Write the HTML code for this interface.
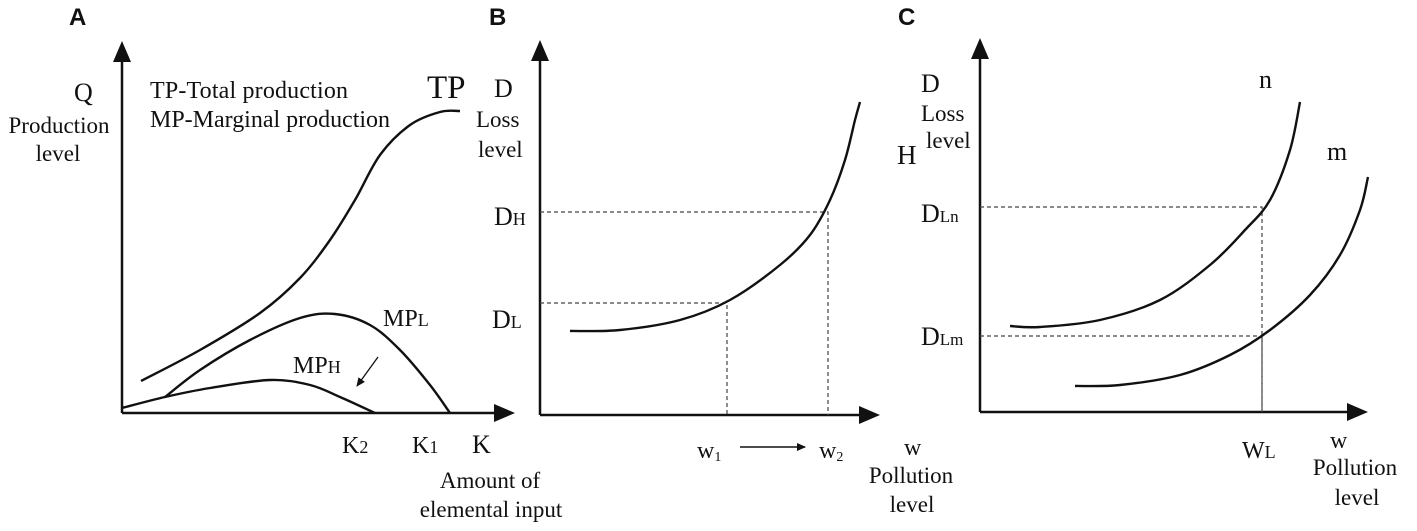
<!DOCTYPE html>
<html><head><meta charset="utf-8"><style>
body{margin:0;background:#fff}
svg text{font-family:"Liberation Serif",serif;fill:#111}
.pl{font-family:"Liberation Sans",sans-serif;font-weight:bold;font-size:24px}
</style></head><body>
<svg id="s" width="1417" height="526" viewBox="0 0 1417 526" xmlns="http://www.w3.org/2000/svg">
<defs><marker id="ar" markerWidth="9" markerHeight="8" refX="8" refY="4" orient="auto" markerUnits="userSpaceOnUse"><path d="M0,0 L9,4 L0,8z" fill="#111"/></marker></defs>
<g id="g"></g>
<text class="pl" x="69" y="25">A</text>
<text class="pl" x="489" y="25">B</text>
<text class="pl" x="898" y="25">C</text>
<!-- Panel A text -->
<text x="74" y="101" font-size="26">Q</text>
<text x="59" y="133" font-size="23" text-anchor="middle">Production</text>
<text x="58" y="161" font-size="23" text-anchor="middle">level</text>
<text x="150" y="98" font-size="24" textLength="198">TP-Total production</text>
<text x="150" y="127" font-size="24" textLength="240">MP-Marginal production</text>
<text x="427" y="98" font-size="33">TP</text>
<text x="383" y="326" font-size="24">MP<tspan font-size="18">L</tspan></text>
<text x="293" y="373" font-size="24">MP<tspan font-size="18">H</tspan></text>
<text x="342" y="453" font-size="24">K<tspan font-size="18">2</tspan></text>
<text x="412" y="453" font-size="24">K<tspan font-size="18">1</tspan></text>
<text x="472" y="453" font-size="26">K</text>
<text x="490" y="488" font-size="23" text-anchor="middle">Amount of</text>
<text x="491" y="517" font-size="23" text-anchor="middle">elemental input</text>
<!-- Panel B text -->
<text x="494" y="97" font-size="26">D</text>
<text x="476" y="127" font-size="23">Loss</text>
<text x="478" y="157" font-size="23">level</text>
<text x="494" y="225" font-size="26">D<tspan font-size="18">H</tspan></text>
<text x="492" y="328" font-size="26">D<tspan font-size="18">L</tspan></text>
<text x="697" y="458" font-size="24">w<tspan font-size="14" dy="3">1</tspan></text>
<text x="819" y="458" font-size="24">w<tspan font-size="14" dy="3">2</tspan></text>
<text x="904" y="455" font-size="24">w</text>
<text x="911" y="483" font-size="23" text-anchor="middle">Pollution</text>
<text x="912" y="512" font-size="23" text-anchor="middle">level</text>
<!-- Panel C text -->
<text x="921" y="92" font-size="26">D</text>
<text x="921" y="121" font-size="23">Loss</text>
<text x="897" y="164" font-size="27">H</text>
<text x="926" y="148" font-size="23">level</text>
<text x="921" y="222" font-size="26">D<tspan font-size="17">Ln</tspan></text>
<text x="921" y="345" font-size="26">D<tspan font-size="17">Lm</tspan></text>
<text x="1259" y="88" font-size="26">n</text>
<text x="1327" y="160" font-size="26">m</text>
<text x="1242" y="458" font-size="24">W<tspan font-size="18">L</tspan></text>
<text x="1330" y="448" font-size="24">w</text>
<text x="1355" y="475" font-size="23" text-anchor="middle">Pollution</text>
<text x="1357" y="505" font-size="23" text-anchor="middle">level</text>
</svg>
<script>
// Data: offsets from each panel's origin (x right, y up)
const tpX=[19,78,138,178,208,233,258,288,318,338];
const tpY=[32,63,100,135,173,213,258,288,301,302];
const mplX=[43,78,128,178,213,248,278,308,328];
const mplY=[16,43,73,95,99,88,63,28,0];
const mphX=[0,43,88,148,188,218,253];
const mphY=[5,16,25,33,28,16,0];
const bX=[30,80,140,190,240,270,290,305,315,320];
const bY=[84,85,95,115,150,180,215,255,295,313];
const bDash=[{w:288,d:203},{w:187,d:112}];
const nX=[30,60,120,180,230,265,290,310,320];
const nY=[86,85,92,112,147,182,212,262,310];
const mX=[95,140,200,250,290,330,360,380,388];
const mY=[26,27,37,57,82,117,157,202,235];
const cDash=[{w:282,d:205},{w:282,d:76}];
const panels={a:{x0:122,y0:413},b:{x0:540,y0:415},c:{x0:980,y0:412}};
const sx=(p,v)=>panels[p].x0+v, sy=(p,v)=>panels[p].y0-v;
const NS='http://www.w3.org/2000/svg', g=document.getElementById('g');
function mk(t,a){const e=document.createElementNS(NS,t);for(const k in a)e.setAttribute(k,a[k]);g.appendChild(e);return e;}
function smooth(pts){let d='M'+pts[0][0]+','+pts[0][1];for(let i=0;i<pts.length-1;i++){const p0=pts[i-1]||pts[i],p1=pts[i],p2=pts[i+1],p3=pts[i+2]||p2;
d+=' C'+(p1[0]+(p2[0]-p0[0])/6)+','+(p1[1]+(p2[1]-p0[1])/6)+' '+(p2[0]-(p3[0]-p1[0])/6)+','+(p2[1]-(p3[1]-p1[1])/6)+' '+p2[0]+','+p2[1];}return d;}
function curve(p,xs,ys,name){const e=mk('path',{d:smooth(xs.map((x,i)=>[sx(p,x),sy(p,ys[i])])),fill:'none',stroke:'#111','stroke-width':2.4});

}
function axes(p,xl,yl){const a=mk('path',{d:`M${sx(p,0)},${sy(p,0)} V${sy(p,yl)} M${sx(p,0)},${sy(p,0)} H${sx(p,xl)}`,stroke:'#111','stroke-width':2.5,fill:'none'});


const x=sx(p,0),y=sy(p,yl),X=sx(p,xl),Y=sy(p,0);
const t=mk('path',{d:`M${x-9},${y+1} L${x},${y-20} L${x+9},${y+1}z M${X-1},${Y-9} L${X+20},${Y} L${X-1},${Y+9}z`,fill:'#111'});

}
function dash(p,o){const e=mk('path',{d:`M${sx(p,0)},${sy(p,o.d)} H${sx(p,o.w)} V${sy(p,0)}`,fill:'none',stroke:'#444','stroke-width':1.2,'stroke-dasharray':'4,3'});

}
axes('a',373,352);axes('b',320,355);axes('c',368,354);
curve('a',tpX,tpY,'tp-curve');curve('a',mplX,mplY,'mpl-curve');curve('a',mphX,mphY,'mph-curve');
bDash.forEach(o=>dash('b',o));curve('b',bX,bY,'loss-curve');
cDash.forEach(o=>dash('c',o));curve('c',nX,nY,'n-curve');curve('c',mX,mY,'m-curve');
const a1=mk('line',{x1:378,y1:357,x2:357,y2:386,stroke:'#111','stroke-width':1.3,'marker-end':'url(#ar)'});


const a2=mk('line',{x1:740,y1:447,x2:805,y2:447,stroke:'#111','stroke-width':1.5,'marker-end':'url(#ar)'});


</script>
</body></html>
